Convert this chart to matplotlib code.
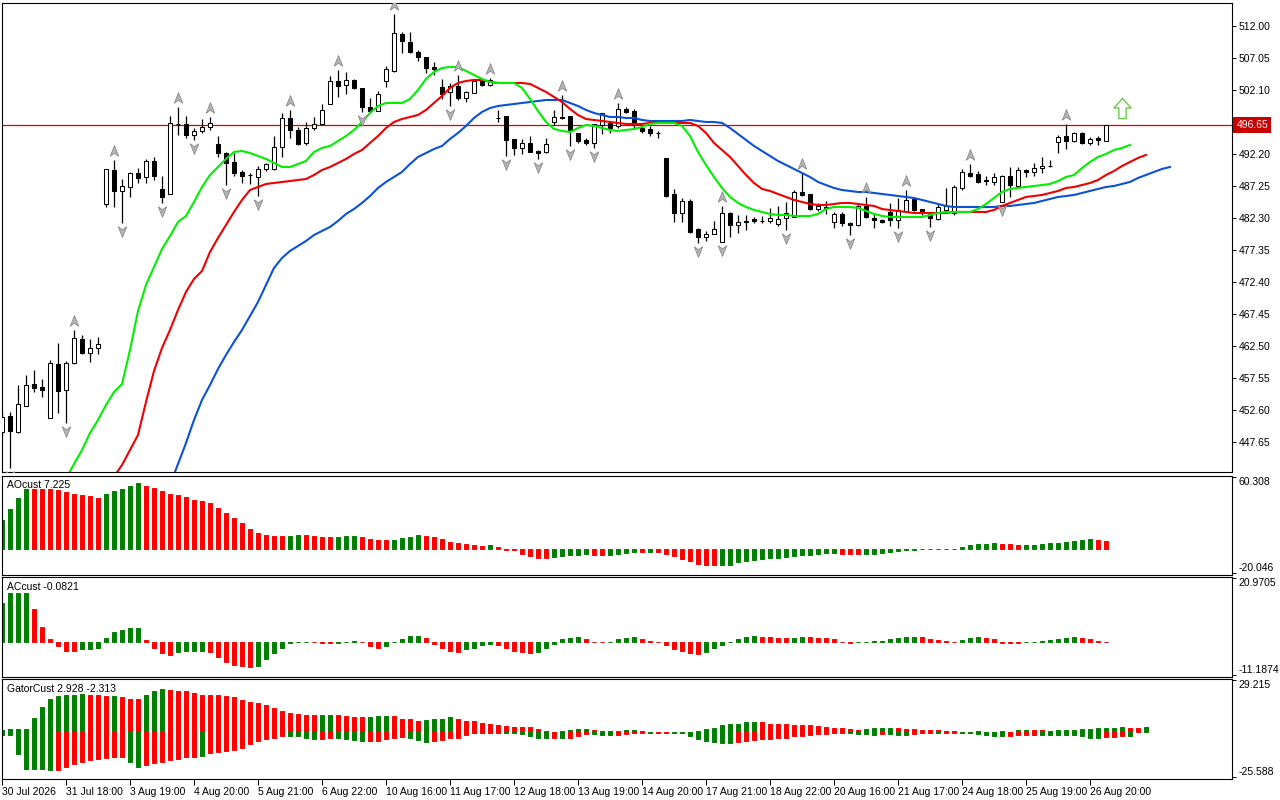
import matplotlib
matplotlib.use("Agg")
import matplotlib.pyplot as plt
import numpy as np
from matplotlib.path import Path
from matplotlib.transforms import blended_transform_factory, offset_copy

plt.rcParams['font.family'] = ['Liberation Sans', 'DejaVu Sans']
plt.rcParams['font.size'] = 7.5

# ---------------- price bars (one per hour bar, index 0..138)
opens = [
    449.2, 451.7, 449.2, 453.2, 456.6, 456.2, 451.4, 459.7, 455.7, 459.9,
    463.6, 461.4, 462.2, 484.5, 489.7, 486.5, 487.1, 489.3, 488.6, 491.1,
    486.8, 486.0, 496.9, 496.8, 495.1, 495.8, 496.4, 493.7, 492.4, 491.0,
    489.4, 489.0, 488.6, 489.9, 489.9, 493.3, 497.8, 495.9, 493.9, 496.2,
    496.8, 499.9, 503.5, 502.9, 503.6, 502.4, 499.5, 498.9, 503.5, 505.0,
    510.8, 509.5, 508.0, 507.2, 505.7, 502.6, 501.8, 502.7, 500.9, 501.6,
    503.5, 502.9, 497.8, 498.1, 494.5, 493.1, 493.9, 492.6, 492.5, 497.2,
    497.9, 498.1, 495.4, 494.4, 493.9, 496.7, 497.0, 496.5, 499.2, 498.9,
    496.2, 496.1, 495.5, 491.6, 486.0, 483.1, 484.9, 480.6, 479.4, 479.8,
    478.6, 483.1, 481.2, 481.8, 482.1, 481.9, 481.8, 481.4, 482.3, 482.5,
    486.3, 486.0, 483.7, 484.0, 481.7, 482.9, 481.5, 481.2, 484.2, 482.3,
    482.0, 483.2, 482.0, 483.4, 485.2, 483.7, 482.9, 482.1, 483.5, 483.1,
    486.9, 489.3, 489.1, 488.1, 487.9, 484.8, 488.8, 487.3, 489.7, 489.4,
    490.0, 490.3, 494.1, 495.0, 494.2, 495.4, 493.9, 494.7, 494.2,
]
highs = [
    452.5, 452.3, 456.5, 458.0, 458.8, 457.4, 460.3, 463.0, 460.2, 465.0,
    464.2, 463.6, 463.9, 489.9, 491.3, 488.3, 489.4, 490.0, 491.4, 491.7,
    488.8, 498.1, 499.5, 498.1, 496.2, 497.6, 497.9, 495.0, 492.5, 492.4,
    489.7, 489.3, 490.3, 490.8, 495.0, 498.5, 499.0, 496.4, 497.2, 497.9,
    499.9, 504.3, 505.2, 504.9, 503.8, 502.4, 500.9, 501.9, 505.8, 513.9,
    511.1, 511.1, 508.3, 507.2, 506.4, 503.8, 503.2, 504.4, 501.9, 503.5,
    503.8, 503.9, 499.0, 498.1, 494.5, 494.5, 495.0, 492.8, 494.7, 499.0,
    501.3, 498.1, 495.4, 494.7, 496.8, 498.5, 497.2, 500.1, 499.5, 499.2,
    496.5, 496.6, 495.8, 491.6, 486.8, 485.4, 485.2, 480.8, 480.3, 481.8,
    484.2, 483.2, 482.8, 482.8, 482.5, 482.6, 483.8, 484.2, 484.8, 486.6,
    489.3, 486.0, 484.6, 484.9, 483.2, 483.2, 481.7, 484.6, 485.5, 482.9,
    482.2, 484.6, 485.4, 486.6, 485.4, 483.7, 483.1, 484.6, 486.9, 487.4,
    489.9, 490.7, 489.6, 488.8, 489.3, 489.0, 490.2, 490.2, 489.9, 490.8,
    491.7, 491.3, 495.1, 496.9, 495.6, 495.6, 494.8, 495.0, 496.65,
]
lows = [
    448.5, 443.6, 449.0, 453.2, 455.4, 454.6, 451.4, 452.1, 450.6, 459.7,
    461.3, 460.0, 461.3, 484.0, 484.0, 481.5, 485.5, 487.7, 487.7, 488.2,
    484.6, 486.0, 495.1, 494.7, 494.4, 495.4, 495.9, 491.7, 487.4, 488.8,
    487.7, 487.6, 485.7, 489.6, 489.7, 491.7, 494.7, 493.6, 493.6, 495.9,
    496.8, 499.9, 501.0, 501.5, 502.3, 498.7, 498.7, 498.9, 502.6, 504.9,
    507.8, 507.8, 506.6, 504.7, 504.4, 500.7, 499.6, 500.6, 500.2, 501.6,
    502.7, 502.7, 497.2, 491.9, 492.0, 492.2, 492.5, 491.4, 492.4, 496.7,
    497.6, 493.4, 493.9, 493.6, 493.1, 495.3, 495.4, 496.2, 498.5, 496.0,
    495.4, 495.0, 494.7, 485.5, 481.7, 481.7, 480.0, 478.4, 478.7, 479.8,
    478.6, 479.4, 480.0, 480.5, 481.5, 481.5, 481.5, 481.1, 480.5, 482.5,
    485.7, 483.5, 483.4, 482.9, 480.8, 481.0, 479.7, 481.1, 482.3, 480.8,
    481.5, 481.1, 480.8, 483.4, 483.4, 482.8, 480.9, 482.0, 483.1, 482.8,
    486.6, 488.6, 487.7, 487.4, 487.4, 484.8, 485.5, 487.3, 488.6, 488.8,
    489.3, 490.2, 492.4, 493.0, 494.1, 493.7, 493.6, 493.6, 494.2,
]
closes = [
    451.5, 449.4, 453.5, 456.5, 456.0, 455.7, 459.9, 455.5, 459.9, 463.7,
    461.4, 462.2, 462.8, 489.9, 486.5, 487.3, 489.3, 488.5, 491.1, 488.8,
    485.5, 497.0, 496.8, 495.1, 495.8, 496.4, 497.0, 492.4, 490.8, 489.3,
    488.8, 488.9, 489.9, 490.7, 493.3, 497.8, 495.9, 493.7, 496.2, 496.8,
    499.0, 503.5, 502.7, 503.6, 502.4, 499.5, 498.9, 501.5, 505.3, 510.9,
    509.7, 508.0, 507.2, 505.5, 505.3, 501.5, 502.7, 500.9, 501.8, 503.5,
    502.9, 503.6, 497.7, 494.4, 493.1, 493.9, 492.5, 492.4, 493.7, 497.9,
    497.8, 495.8, 494.2, 493.9, 496.8, 498.5, 496.2, 499.2, 498.7, 496.7,
    495.8, 495.5, 495.4, 485.7, 483.1, 484.9, 480.1, 479.4, 479.8, 480.6,
    483.1, 481.2, 481.7, 481.7, 481.9, 481.8, 482.3, 482.1, 483.1, 486.3,
    485.9, 483.7, 484.2, 483.9, 482.9, 481.5, 481.2, 484.2, 482.5, 482.0,
    481.7, 482.0, 483.5, 485.1, 483.5, 483.1, 482.3, 484.0, 484.2, 487.1,
    489.4, 488.8, 487.9, 488.0, 488.6, 488.8, 487.4, 489.7, 489.4, 490.0,
    490.3, 490.3, 494.8, 494.2, 495.4, 493.9, 494.5, 494.4, 496.65,
]
last_price = 496.65

# ---------------- alligator (lines start at a given bar index, shifted forward)
lips_start = 8
lips = [
    442.0, 444.25, 446.41, 449.04, 451.05, 453.37, 455.39, 456.62, 461.88, 467.91,
    471.94, 474.72, 477.50, 479.51, 481.68, 482.61, 484.78, 487.09, 488.95, 490.19,
    491.43, 492.51, 492.66, 492.35, 491.89, 491.43, 490.81, 490.19, 490.19, 490.65,
    491.12, 492.51, 493.13, 493.44, 494.21, 494.98, 495.91, 497.15, 498.54, 499.62,
    500.09, 500.09, 500.09, 500.71, 502.10, 503.80, 504.88, 505.50, 505.66, 505.66,
    505.04, 504.42, 503.80, 503.34, 503.18, 503.18, 503.18, 502.41, 500.71, 498.85,
    497.15, 496.07, 495.76, 495.60, 496.22, 496.69, 496.53, 496.22, 495.91, 495.76,
    495.91, 496.07, 496.38, 496.84, 497.00, 497.00, 497.00, 496.53, 494.98, 492.51,
    490.50, 488.64, 486.94, 485.55, 484.62, 484.00, 483.54, 483.23, 482.92, 482.77,
    482.77, 482.61, 482.61, 482.61, 482.92, 483.69, 484.00, 484.00, 484.00, 483.85,
    483.38, 482.92, 482.61, 482.46, 482.46, 482.46, 482.46, 482.46, 482.77, 483.07,
    483.23, 483.23, 483.23, 483.23, 483.69, 484.47, 485.39, 486.32, 486.79, 486.94,
    487.09, 487.25, 487.40, 487.56, 488.02, 488.64, 488.95, 490.03, 490.96, 491.74,
    492.20, 492.82, 493.13, 493.59,
]
teeth_start = 14
teeth = [
    442.3, 444.09, 446.41, 448.73, 453.84, 458.63, 462.19, 464.98, 468.07, 470.86,
    472.87, 474.10, 477.04, 479.21, 481.22, 483.23, 485.09, 486.63, 487.09, 487.56,
    487.71, 487.87, 488.02, 488.18, 488.33, 488.95, 489.72, 490.19, 490.81, 491.43,
    492.20, 492.82, 493.90, 494.98, 496.22, 497.15, 497.61, 497.92, 498.23, 499.01,
    500.09, 501.17, 502.41, 503.18, 503.49, 503.65, 503.65, 503.34, 503.18, 503.18,
    503.18, 503.18, 503.03, 502.41, 501.79, 501.02, 500.24, 499.16, 498.23, 497.61,
    497.46, 497.30, 497.15, 497.00, 496.84, 496.84, 496.84, 497.00, 497.00, 497.00,
    497.00, 497.00, 497.00, 496.53, 495.45, 493.90, 492.82, 491.74, 490.34, 488.95,
    487.71, 486.79, 486.48, 486.01, 485.55, 485.09, 484.78, 484.47, 484.31, 484.31,
    484.47, 484.62, 484.62, 484.47, 484.31, 484.16, 483.69, 483.54, 483.38, 483.23,
    483.07, 483.07, 483.07, 483.07, 483.07, 483.23, 483.23, 483.23, 483.23, 483.23,
    483.54, 484.16, 484.62, 485.09, 485.55, 485.70, 485.86, 486.17, 486.48, 486.94,
    487.09, 487.40, 487.71, 488.18, 488.95, 489.57, 490.34, 490.96, 491.58, 492.05,
]
jaw_start = 21
jaw = [
    441.0, 444.25, 447.50, 451.05, 454.15, 456.47, 458.94, 461.11, 463.12, 464.98,
    467.14, 469.31, 471.94, 474.57, 476.11, 477.20, 477.97, 478.74, 479.67, 480.29,
    480.91, 481.84, 482.92, 483.69, 484.62, 485.70, 486.94, 487.87, 488.64, 489.42,
    490.65, 491.74, 492.35, 492.97, 493.44, 494.52, 495.45, 496.53, 497.77, 498.70,
    499.31, 499.62, 499.78, 499.93, 500.09, 500.24, 500.40, 500.55, 500.55, 500.55,
    500.09, 499.62, 499.01, 498.54, 498.23, 497.92, 497.92, 497.77, 497.77, 497.46,
    497.30, 497.30, 497.30, 497.30, 497.30, 497.46, 497.30, 497.15, 497.15, 497.00,
    496.22, 495.29, 494.37, 493.44, 492.66, 491.89, 491.12, 490.50, 489.88, 489.26,
    488.64, 487.87, 487.40, 486.94, 486.63, 486.48, 486.32, 486.32, 486.17, 486.01,
    485.86, 485.70, 485.55, 485.39, 485.09, 484.78, 484.47, 484.16, 484.00, 484.00,
    484.00, 484.00, 484.00, 484.00, 484.16, 484.16, 484.31, 484.47, 484.62, 484.93,
    485.24, 485.55, 485.70, 485.86, 486.17, 486.48, 486.79, 487.09, 487.25, 487.56,
    487.87, 488.49, 488.95, 489.42, 489.88, 490.19,
]

# fractal bars
up_fractals = [9, 14, 22, 26, 36, 42, 49, 57, 61, 70, 77, 90, 100, 108, 113, 121, 133]
down_fractals = [1, 8, 15, 20, 24, 28, 32, 45, 56, 63, 67, 71, 74, 87, 90, 98, 106, 112, 116, 125]
signal_bar = 140
signal_price = 499.3

# ---------------- AO
ao = [
    24.0, 33.5, 42.7, 50.2, 50.1, 50.0, 49.9, 49.7, 47.7, 45.8,
    45.2, 44.4, 42.7, 45.8, 48.5, 50.2, 52.7, 55.2, 52.7, 51.1,
    48.8, 46.0, 44.9, 43.2, 40.7, 40.2, 38.5, 34.6, 30.1, 25.9,
    21.8, 16.7, 13.4, 11.7, 10.9, 10.8, 10.9, 11.7, 11.4, 10.9,
    10.0, 9.9, 10.0, 10.9, 11.0, 10.0, 8.4, 7.5, 7.4, 7.5,
    8.9, 10.0, 11.7, 10.9, 10.0, 8.4, 5.9, 5.0, 4.2, 3.3,
    2.5, 3.3, 1.7, -0.3, -1.1, -4.2, -5.9, -7.5, -7.6, -6.4,
    -5.9, -5.0, -4.9, -4.2, -5.0, -5.1, -5.0, -4.2, -3.3, -2.5,
    -2.6, -2.5, -2.6, -4.2, -5.9, -8.4, -10.0, -12.6, -13.4, -13.5,
    -13.4, -13.3, -10.9, -10.0, -9.2, -8.4, -7.5, -7.4, -6.7, -6.1,
    -4.7, -4.6, -3.9, -3.3, -3.2, -4.2, -4.3, -4.4, -4.2, -3.9,
    -2.8, -2.2, -1.7, -0.6, -0.3, -0.1, 0.2, 0.3, 0.3, 0.5,
    1.7, 3.3, 4.2, 4.3, 5.0, 4.2, 4.1, 3.3, 3.4, 3.5,
    4.2, 5.0, 5.1, 5.9, 6.7, 7.5, 8.4, 7.5, 7.225,
]
ao_colors = ("gggg rrrrrrrrr ggggg rrrrrrrrrrrrrrrrrr gg rrrr ggg rrrr gggg rrrrrrrr g rrrrrrr "
             "ggggg rr gggg r g rrrrrrrr ggggggggggggggg rrr ggggggggggggggggg rrr ggggggggg rr")

# ---------------- AC
ac = [
    12.9, 16.0, 16.2, 16.2, 10.7, 4.8, 0.9, -1.6, -3.0, -3.0,
    -2.6, -2.6, -2.3, 1.2, 3.2, 3.9, 4.5, 4.5, 0.5, -2.0,
    -3.9, -4.6, -3.6, -3.3, -3.3, -3.0, -3.6, -5.3, -6.9, -7.8,
    -8.2, -8.5, -8.2, -5.9, -3.9, -2.0, -0.4, -0.3, -0.2, -0.3,
    -0.4, -0.5, -0.4, -0.3, 0.1, -0.2, -1.6, -2.0, -1.6, -0.3,
    0.8, 1.8, 1.8, 1.2, -0.7, -2.3, -3.3, -3.4, -2.6, -2.3,
    -1.3, -0.7, -1.0, -2.0, -3.0, -3.6, -3.9, -3.6, -2.3, -0.7,
    1.0, 1.3, 1.35, 1.0, -0.2, -0.25, -0.1, 0.7, 1.3, 1.35,
    1.0, 0.1, -0.2, -1.3, -2.6, -3.3, -3.9, -4.3, -3.6, -2.0,
    -1.0, -0.2, 1.0, 1.6, 1.7, 1.6, 1.55, 1.3, 1.25, 1.3,
    1.6, 1.5, 1.3, 1.2, 0.7, -0.1, -0.4, -0.3, 0.0, 0.1,
    0.3, 1.0, 1.3, 1.4, 1.6, 1.5, 0.9, 0.5, 0.3, -0.2,
    0.4, 1.3, 1.6, 1.3, 0.9, -0.4, -0.5, -0.6, -0.3, -0.1,
    0.2, 0.4, 0.9, 1.3, 1.4, 1.3, 0.9, 0.2, -0.0821,
]
ac_colors = ("gggg rrrrrr gggggggg rrrr gggg rrrrrr ggggggg rrr ggg rrr ggggg rrrrr gggg rrrrr "
             "gggggg rrr gggg rrrrrrrr ggggggg rrrr gg rrrrrr gggggggg rrrrr ggg rrrrr ggggggg rrrr")

# ---------------- Gator
gator_up = [
    1.0, 1.5, 1.5, 1.5, 8.0, 14.0, 18.8, 20.1, 20.7, 21.1,
    21.2, 21.0, 20.7, 20.1, 20.2, 20.0, 18.8, 18.7, 21.1, 23.3,
    24.4, 23.8, 23.3, 22.9, 22.0, 21.1, 20.7, 20.6, 20.1, 19.6,
    18.3, 17.0, 16.2, 15.1, 13.6, 12.1, 10.8, 9.9, 9.8, 9.5,
    9.6, 9.7, 9.5, 8.8, 8.4, 8.3, 8.5, 8.9, 9.0, 8.9,
    7.6, 7.1, 6.5, 6.6, 7.1, 7.6, 8.2, 7.6, 6.5, 6.0,
    5.0, 4.5, 3.9, 3.4, 2.9, 2.8, 2.7, 1.5, 0.6, 0.3,
    0.6, 0.9, 1.5, 1.6, 0.9, 0.4, 0.5, 0.4, 0.9, 1.0,
    0.4, 0.3, 0.1, 0.1, 0.15, 0.2, 0.3, 0.4, 1.5, 2.4,
    3.7, 4.3, 4.8, 5.4, 5.5, 5.4, 4.8, 4.7, 4.3, 4.2,
    3.9, 3.7, 3.2, 3.1, 2.4, 2.0, 1.5, 1.3, 1.5, 2.0,
    2.05, 2.1, 2.0, 1.5, 1.45, 1.4, 1.3, 0.9, 0.85, 0.4,
    0.2, 0.3, 0.4, 0.2, 0.3, 0.4, 0.2, 0.9, 1.0, 0.95,
    0.9, 0.85, 0.9, 1.0, 1.1, 1.5, 1.6, 2.0, 2.4, 2.5,
    2.6, 2.5, 2.4, 2.928,
]
gator_up_colors = ("ggggggggggg rrr g rrr ggg rrrrrrrrrrrrrrrrrrr gg rrrr ggg rrrr gggg rrrrrrrrrrrrr "
                   "gggg rr g r gg rrrr ggggggggggg rrrrrrrrrrrrr gggg rrrrrrrrr gg r gg r gg rrr "
                   "ggggggggg rr g")
gator_dn = [
    -1.5, -1.7, -12.1, -20.9, -20.9, -21.0, -21.4, -21.4, -19.9, -18.1,
    -17.1, -15.8, -15.3, -14.7, -14.0, -13.8, -16.6, -19.6, -18.4, -17.7,
    -16.6, -15.8, -15.3, -14.3, -14.0, -13.4, -11.6, -11.0, -10.6, -10.2,
    -9.1, -6.5, -5.0, -4.1, -3.2, -2.2, -2.2, -2.3, -3.2, -4.1,
    -4.0, -3.2, -3.3, -4.1, -4.7, -5.0, -4.9, -4.8, -4.1, -3.2,
    -2.8, -3.5, -4.7, -5.4, -5.3, -4.7, -3.5, -3.2, -1.7, -0.7,
    -0.7, -0.7, -0.6, -0.7, -0.8, -1.3, -2.2, -3.5, -3.6, -3.5,
    -3.6, -3.5, -2.2, -0.9, -1.0, -1.7, -1.8, -1.7, -0.9, -0.6,
    -0.5, -0.6, -0.3, -0.3, -0.3, -0.35, -2.2, -4.1, -5.0, -5.4,
    -6.0, -6.1, -5.4, -5.0, -4.5, -4.1, -4.0, -3.5, -3.2, -2.2,
    -2.1, -1.7, -1.3, -0.9, -0.7, -0.4, -0.7, -1.3, -1.35, -1.4,
    -1.3, -1.35, -1.4, -1.45, -0.9, -0.6, -0.55, -0.6, -0.5, -0.4,
    -0.45, -0.6, -0.9, -1.9, -2.2, -2.25, -2.2, -1.7, -1.65, -1.6,
    -1.7, -1.75, -1.8, -1.85, -1.9, -2.4, -3.2, -3.5, -2.8, -2.7,
    -2.2, -2.313,
]
gator_dn_colors = ("ggggggg rrrrrrrrr gg rrrrrrr g rrrrrrrrrr gggg rr gggg rrrrr ggg rrrrrrrrr gggggg "
                   "r g rrr ggg rrrr g rr gggggggg rrrrrrrrrrrrrr gggg r ggg rrr g rr gggggg rrrr "
                   "gggggggg rrr g")

# ---------------- axis texts
price_ticks = [512.00, 507.05, 502.10, 492.20, 487.25, 482.30, 477.35, 472.40,
               467.45, 462.50, 457.55, 452.60, 447.65]
time_tick_bars = [0, 8, 16, 24, 32, 40, 48, 56, 64, 72, 80, 88, 96, 104, 112, 120, 128, 136]
time_tick_labels = ["30 Jul 2026", "31 Jul 18:00", "3 Aug 19:00", "4 Aug 20:00", "5 Aug 21:00",
                    "6 Aug 22:00", "10 Aug 16:00", "11 Aug 17:00", "12 Aug 18:00", "13 Aug 19:00",
                    "14 Aug 20:00", "17 Aug 21:00", "18 Aug 22:00", "20 Aug 16:00", "21 Aug 17:00",
                    "24 Aug 18:00", "25 Aug 19:00", "26 Aug 20:00"]
ao_range = (-20.046, 60.308)
ac_range = (-11.1874, 20.9705)
gator_range = (-25.588, 29.215)

GREEN = '#008000'
RED = '#ff0000'
COL = {'g': GREEN, 'r': RED}


def colors_of(s, n):
    s = s.replace(" ", "")
    assert len(s) == n, (len(s), n)
    return [COL[ch] for ch in s]


o = np.array(opens)
h = np.array(highs)
l = np.array(lows)
c = np.array(closes)
n = len(c)
idx = np.arange(n)

fig = plt.figure(figsize=(12.8, 8), dpi=100)
fig.patch.set_facecolor('white')


def panel(top, bottom):
    return fig.add_axes([2 / 1280, 1 - bottom / 800, 1229.5 / 1280, (bottom - top) / 800])


ax = panel(2.5, 472)
ax_ao = panel(475.7, 574.7)
ax_ac = panel(577.3, 676.7)
ax_gt = panel(679, 779)

for a in (ax, ax_ao, ax_ac, ax_gt):
    a.set_xlim(0, 1229.5 / 8)
    a.set_facecolor('white')
    for s in a.spines.values():
        s.set_linewidth(0.8)
        s.set_color('black')
    a.tick_params(axis='y', left=False, labelleft=False, right=True, labelright=True,
                  direction='out', length=3, width=0.7, pad=2, labelsize=7.5)
    a.tick_params(axis='x', bottom=False, labelbottom=False)

# ---- main chart
ax.set_ylim(443.01, 515.63)
ax.set_yticks(price_ticks)
ax.set_yticklabels(["%.2f" % v for v in price_ticks])
ax.axhline(last_price, color='#e00000', lw=0.9, zorder=1.5)

bull = c >= o
ax.vlines(idx, l, h, color='black', lw=0.9, zorder=2)
ax.bar(idx, np.maximum(np.abs(c - o), 0.06), bottom=np.minimum(o, c), width=0.58,
       color=np.where(bull, 'white', 'black'), edgecolor='black', linewidth=0.75, zorder=3)

ax.plot(np.arange(len(jaw)) + jaw_start, jaw, color='#0a52d6', lw=1.5, zorder=4)
ax.plot(np.arange(len(teeth)) + teeth_start, teeth, color='#f00000', lw=1.5, zorder=4)
ax.plot(np.arange(len(lips)) + lips_start, lips, color='#00f000', lw=1.5, zorder=4)

codes4 = [Path.MOVETO, Path.LINETO, Path.LINETO, Path.LINETO, Path.CLOSEPOLY]
up_mark = Path([(0, 1), (0.72, -0.8), (0, -0.3), (-0.72, -0.8), (0, 1)], codes4)
dn_mark = Path([(0, -1), (0.72, 0.8), (0, 0.3), (-0.72, 0.8), (0, -1)], codes4)
up_tr = offset_copy(ax.transData, fig=fig, y=9, units='dots')
dn_tr = offset_copy(ax.transData, fig=fig, y=-8, units='dots')
ax.plot(up_fractals, h[up_fractals], ls='none', marker=up_mark, ms=8.5, mfc='#b4b4b4',
        mec='#8c8c8c', mew=0.6, transform=up_tr, zorder=5)
ax.plot(down_fractals, l[down_fractals], ls='none', marker=dn_mark, ms=8.5, mfc='#b4b4b4',
        mec='#8c8c8c', mew=0.6, transform=dn_tr, zorder=5)

sig_mark = Path([(0, 1), (0.85, 0.05), (0.36, 0.05), (0.36, -1), (-0.36, -1), (-0.36, 0.05),
                 (-0.85, 0.05), (0, 1)],
                [Path.MOVETO] + [Path.LINETO] * 6 + [Path.CLOSEPOLY])
ax.plot([signal_bar], [signal_price], ls='none', marker=sig_mark, ms=14.5, mfc='white',
        mec='#66cc44', mew=1.0, zorder=6)

btr = blended_transform_factory(ax.transAxes, ax.transData)
ax.text(1.0 + 5 / 1229.5, last_price, "%.2f" % last_price, transform=btr, ha='left', va='center',
        color='white', fontsize=7.5, clip_on=False, zorder=10,
        bbox=dict(boxstyle='square,pad=0.3', fc='#c80000', ec='none'))


# ---- sub windows
def sub_axis(a, rng, labels, title):
    lo, hi = rng
    pad = (hi - lo) * 0.012
    a.set_ylim(lo - pad * 1.3, hi + pad)
    a.set_yticks([lo, hi])
    a.set_yticklabels(labels)
    tl = a.get_yticklabels()
    tl[0].set_va('bottom')
    tl[1].set_va('top')
    a.text(0.004, 0.955, title, transform=a.transAxes, ha='left', va='top', fontsize=7.5)


def histogram(a, x, vals, cols):
    # outline in the same colour keeps bars near zero visible as a 1 px dash
    a.bar(x, vals, width=0.44, color=cols, edgecolor=cols, linewidth=0.7, zorder=2)


histogram(ax_ao, idx, ao, colors_of(ao_colors, n))
sub_axis(ax_ao, ao_range, ["-20.046", "60.308"], "AOcust 7.225")

histogram(ax_ac, idx, ac, colors_of(ac_colors, n))
sub_axis(ax_ac, ac_range, ["-11.1874", "20.9705"], "ACcust -0.0821")

histogram(ax_gt, np.arange(len(gator_up)), gator_up, colors_of(gator_up_colors, len(gator_up)))
histogram(ax_gt, np.arange(len(gator_dn)), gator_dn, colors_of(gator_dn_colors, len(gator_dn)))
sub_axis(ax_gt, gator_range, ["-25.588", "29.215"], "GatorCust 2.928 -2.313")

ax_gt.set_xticks(time_tick_bars)
ax_gt.set_xticklabels(time_tick_labels)
ax_gt.tick_params(axis='x', bottom=True, labelbottom=True, direction='out', length=4,
                  width=0.7, pad=1.5, labelsize=7.5)
for t in ax_gt.get_xticklabels():
    t.set_horizontalalignment('left')

fig.savefig('out.png', dpi=100, facecolor='white')
